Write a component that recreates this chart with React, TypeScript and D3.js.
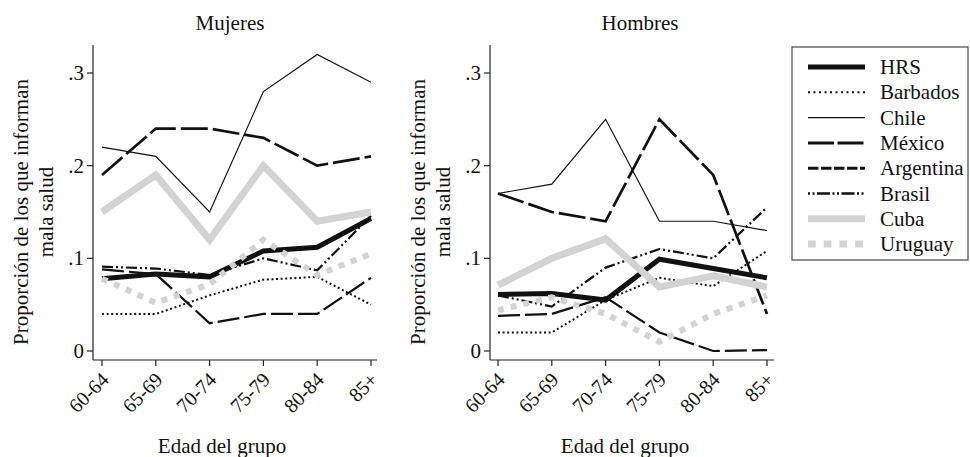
import React from "react";
import * as d3 from "d3";

const ageGroups = ["60-64", "65-69", "70-74", "75-79", "80-84", "85+"];
const yTicks = [0, 0.1, 0.2, 0.3];
const yTickLabels = ["0", ".1", ".2", ".3"];
const countries = ["HRS", "Barbados", "Chile", "México", "Argentina", "Brasil", "Cuba", "Uruguay"];

// Mujeres
const womenHRS = [0.078, 0.083, 0.08, 0.108, 0.112, 0.143];
const womenBarbados = [0.04, 0.04, 0.06, 0.077, 0.08, 0.05];
const womenChile = [0.22, 0.21, 0.15, 0.28, 0.32, 0.29];
const womenMexico = [0.19, 0.24, 0.24, 0.23, 0.2, 0.21];
const womenArgentina = [0.088, 0.083, 0.03, 0.04, 0.04, 0.079];
const womenBrasil = [0.091, 0.089, 0.082, 0.1, 0.087, 0.146];
const womenCuba = [0.15, 0.19, 0.12, 0.2, 0.14, 0.15];
const womenUruguay = [0.078, 0.052, 0.072, 0.12, 0.082, 0.105];

// Hombres
const menHRS = [0.061, 0.062, 0.055, 0.099, 0.089, 0.079];
const menBarbados = [0.02, 0.02, 0.055, 0.079, 0.07, 0.108];
const menChile = [0.17, 0.18, 0.25, 0.14, 0.14, 0.13];
const menMexico = [0.17, 0.15, 0.14, 0.25, 0.19, 0.04];
const menArgentina = [0.038, 0.04, 0.058, 0.02, 0.0, 0.001];
const menBrasil = [0.06, 0.048, 0.09, 0.11, 0.1, 0.155];
const menCuba = [0.071, 0.1, 0.121, 0.069, 0.081, 0.069];
const menUruguay = [0.044, 0.058, 0.04, 0.01, 0.04, 0.06];

// line look in the plot, and in the legend keys (Stata draws keys with shorter patterns)
const styles = [
  { stroke: "#111", width: 5, dash: "", keyWidth: 5, keyDash: "", keyOffset: 0 },
  { stroke: "#111", width: 2, dash: "2,2.6", keyWidth: 2, keyDash: "2,3.5", keyOffset: 0 },
  { stroke: "#111", width: 1.2, dash: "", keyWidth: 1.2, keyDash: "", keyOffset: 0 },
  { stroke: "#111", width: 2.7, dash: "27,5", keyWidth: 3, keyDash: "26,3.5", keyOffset: 0 },
  { stroke: "#111", width: 2.2, dash: "22,5", keyWidth: 3, keyDash: "10.5,2.5", keyOffset: 0 },
  { stroke: "#111", width: 2.2, dash: "11,3,2,3,2,3", keyWidth: 2.6, keyDash: "13,2.5,2,2.5,2,2.5", keyOffset: 15.5 },
  { stroke: "#d3d3d3", width: 7, dash: "", keyWidth: 7, keyDash: "", keyOffset: 0 },
  { stroke: "#d3d3d3", width: 6, dash: "6,7", keyWidth: 7, keyDash: "7.7,8", keyOffset: 0 },
];

const font = "Liberation Serif";

const y = d3.scaleLinear().domain([0, 0.3]).range([351, 73]);
const yTop = 45;
const yBottom = 360;

function T(props) {
  return <text fontFamily={font} fill="#111" {...props} />;
}

function Panel({ title, titleX, xLabelX, axisX, x0, x1, axisEnd, series }) {
  const x = d3.scaleLinear().domain([0, ageGroups.length - 1]).range([x0, x1]);
  const line = d3
    .line<number>()
    .x((_, i) => x(i))
    .y((d) => y(d));
  return (
    <g>
      <T x={titleX} y={30} textAnchor="middle" fontSize={21}>
        {title}
      </T>
      <g transform={`translate(${axisX - 65},212) rotate(-90)`}>
        <T x={0} y={0} fontSize={21} textAnchor="middle">Proporción de los que informan</T>
        <T x={0} y={25} fontSize={21} textAnchor="middle">mala salud</T>
      </g>
      <line x1={axisX} x2={axisX} y1={yTop} y2={yBottom} stroke="#222" strokeWidth={1.2} />
      <line x1={axisX} x2={axisEnd} y1={yBottom} y2={yBottom} stroke="#222" strokeWidth={1.2} />
      {yTicks.map((t, i) => (
        <g key={t}>
          <line x1={axisX - 6} x2={axisX} y1={y(t)} y2={y(t)} stroke="#222" strokeWidth={1.2} />
          <T x={axisX - 9} y={y(t) + 7} textAnchor="end" fontSize={21}>
            {yTickLabels[i]}
          </T>
        </g>
      ))}
      {ageGroups.map((a, i) => (
        <g key={a}>
          <line x1={x(i)} x2={x(i)} y1={yBottom} y2={yBottom + 6} stroke="#222" strokeWidth={1.2} />
          <T
            transform={`translate(${x(i) + 8},${yBottom + 21}) rotate(-45)`}
            textAnchor="end"
            fontSize={20}
          >
            {a}
          </T>
        </g>
      ))}
      <T x={xLabelX} y={453} textAnchor="middle" fontSize={21}>
        Edad del grupo
      </T>
      {series.map((s, i) => (
        <path
          key={countries[i]}
          d={line(s) || ""}
          fill="none"
          stroke={styles[i].stroke}
          strokeWidth={styles[i].width}
          strokeDasharray={styles[i].dash}
          strokeLinejoin="miter"
        />
      ))}
    </g>
  );
}

export default function App() {
  const women = [womenHRS, womenBarbados, womenChile, womenMexico, womenArgentina, womenBrasil, womenCuba, womenUruguay];
  const men = [menHRS, menBarbados, menChile, menMexico, menArgentina, menBrasil, menCuba, menUruguay];
  return (
    <svg width={970} height={457} style={{ position: "absolute", left: 0, top: 0, background: "#fff" }}>
      <rect width={970} height={457} fill="#fff" />
      <Panel title="Mujeres" titleX={230} xLabelX={222} axisX={93} x0={102} x1={371} axisEnd={377} series={women} />
      <Panel title="Hombres" titleX={640} xLabelX={625} axisX={490} x0={498} x1={767} axisEnd={774} series={men} />
      <rect x={792} y={47} width={176} height={213} fill="#fff" stroke="#444" strokeWidth={1.2} />
      {countries.map((c, i) => {
        const ly = 67 + i * 25.3;
        return (
          <g key={c}>
            <line
              x1={808}
              x2={865}
              y1={ly}
              y2={ly}
              stroke={styles[i].stroke}
              strokeWidth={styles[i].keyWidth}
              strokeDasharray={styles[i].keyDash}
              strokeDashoffset={styles[i].keyOffset}
            />
            <T x={880} y={ly + 7} fontSize={21}>
              {c}
            </T>
          </g>
        );
      })}
    </svg>
  );
}
